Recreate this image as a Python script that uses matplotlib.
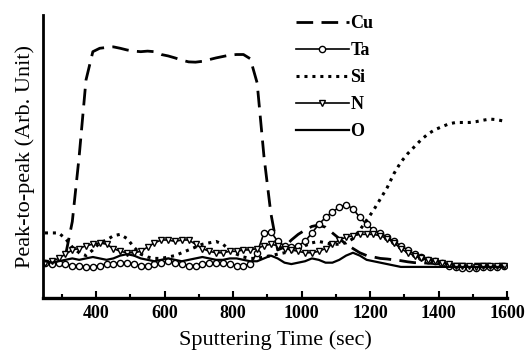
import numpy as np
import matplotlib.pyplot as plt

plt.rcParams['font.family'] = 'Liberation Serif'

# sputtering time grid (sec)
time = np.arange(250, 1600, 20)

cu = [12.5, 12.5, 12.5, 15, 27, 50, 77, 87, 88.2, 88.5, 88.7, 88.2, 87.6, 87.2,
      87, 87.2, 87, 86, 85.5, 84.8, 84, 83.4, 83.3, 83.6, 84.2, 84.8, 85.3, 85.8,
      86, 86, 84.5, 76, 50, 30, 17, 18, 20.5, 22.5, 24, 25.3, 25.8, 25, 23, 21,
      19, 17.5, 16, 15, 14.5, 14, 13.8, 13.5, 13.2, 12.8, 12.5, 12.5, 12.3, 12.2,
      12, 12, 12, 12, 12, 12, 12, 12, 12, 12]

ta = [12.5, 12, 12.5, 12, 11.5, 11.5, 11, 11, 11.5, 12, 12, 12.5, 12.5, 12,
      11.5, 11.5, 12, 12.5, 13, 12.5, 12, 11.5, 11.5, 12, 12.5, 12.5, 12.5, 12,
      11.5, 11.5, 12, 16, 23, 23.5, 20, 18.5, 18, 18.5, 20, 23, 26, 28.5, 30.5,
      32, 33, 31.5, 28.5, 26, 24, 23, 21.5, 20, 18.5, 17, 15.5, 14.5, 13.5, 13,
      12.5, 11.5, 11, 10.5, 10.5, 10.5, 10.8, 11, 11, 11.5]

si = [23, 23, 23, 21, 18, 16, 15, 17, 19.5, 20.5, 22, 22.5, 21, 18, 15.5, 14.5,
      14, 14, 14.5, 15, 16, 17, 18, 19, 19.5, 20, 19, 17, 15.5, 14.5, 14, 14,
      14.5, 15, 15.5, 16, 16.5, 17, 18.5, 19.5, 20, 19.5, 19, 19, 19.5, 21, 24,
      27.5, 31, 35, 39, 44, 48, 51, 53.5, 56, 58, 59.5, 60.5, 61.5, 62, 62, 62,
      62.3, 62.8, 63.2, 63, 62.5]

n = [12.5, 13, 14, 15.5, 17, 17.5, 18.5, 19, 19.5, 19, 17.5, 16.5, 16, 16,
     16.5, 18, 19.5, 20.5, 20.5, 20, 20.5, 20.5, 19, 17.5, 16.5, 16, 16, 16.5,
     16.5, 17, 17, 17.5, 18.5, 19, 18.5, 17.5, 17, 16.5, 16, 16, 16.5, 17.5, 19,
     20.5, 21.5, 22, 22.5, 22.5, 22.5, 22, 21, 19.5, 17.5, 16, 15, 14, 13.5, 13,
     12.5, 12, 11.5, 11.5, 11.5, 11, 11.5, 11.5, 11.5, 11.5]

o = [13, 12.5, 13, 13.5, 14, 13.5, 14, 14.5, 14, 13.5, 14, 15, 15.5, 15, 14,
     13.5, 13, 13.5, 14, 13.5, 13, 13.5, 14, 14.5, 14, 13.5, 13.5, 14, 14, 13.5,
     13, 13, 14, 15, 14, 12.5, 12, 12.5, 13, 14, 13.5, 12.5, 12.5, 13.5, 15, 16,
     15, 13.5, 13, 12.5, 12, 11.5, 11, 11, 11, 11, 11, 11, 11, 11, 11, 11, 11,
     11, 11, 11, 11, 11]

fig = plt.figure(figsize=(5.27, 3.54), dpi=100)
ax = fig.add_axes([0.082, 0.158, 0.88, 0.80])

ax.plot(time, cu, color='black', lw=2, dashes=(6, 3), label='Cu')
ax.plot(time, ta, color='black', lw=1.2, marker='o', ms=4.5, mfc='white',
        mec='black', mew=1, label='Ta')
ax.plot(time, si, color='black', lw=2.2, dashes=(1, 1.6), label='Si')
ax.plot(time, n, color='black', lw=1.2, marker='v', ms=4.5, mfc='white',
        mec='black', mew=1, label='N')
ax.plot(time, o, color='black', lw=1.6, label='O')

ax.set_xlim(245, 1600)
ax.set_ylim(0, 100)
ax.set_xticks([400, 600, 800, 1000, 1200, 1400, 1600])
ax.set_xticks(np.arange(300, 1600, 200), minor=True)
ax.set_yticks([])
ax.tick_params(axis='x', which='major', direction='in', length=5, width=1.5, pad=5,
               labelsize=13)
ax.tick_params(axis='x', which='minor', direction='in', length=3, width=1.5)
for lab in ax.get_xticklabels():
    lab.set_fontweight('bold')

for s in ['top', 'right']:
    ax.spines[s].set_visible(False)
ax.spines['left'].set_linewidth(2)
ax.spines['bottom'].set_linewidth(2.4)

ax.set_xlabel('Sputtering Time (sec)', fontsize=16, labelpad=6)
ax.set_ylabel('Peak-to-peak (Arb. Unit)', fontsize=16, labelpad=6)

leg = ax.legend(loc='upper left', bbox_to_anchor=(0.562, 0.958),
                bbox_transform=fig.transFigure, frameon=False, numpoints=1,
                handlelength=2.9, handletextpad=0.1, labelspacing=0.56,
                borderpad=0, borderaxespad=0,
                prop={'family': 'Liberation Serif', 'weight': 'bold', 'size': 13})

fig.savefig('out.png', dpi=100)
